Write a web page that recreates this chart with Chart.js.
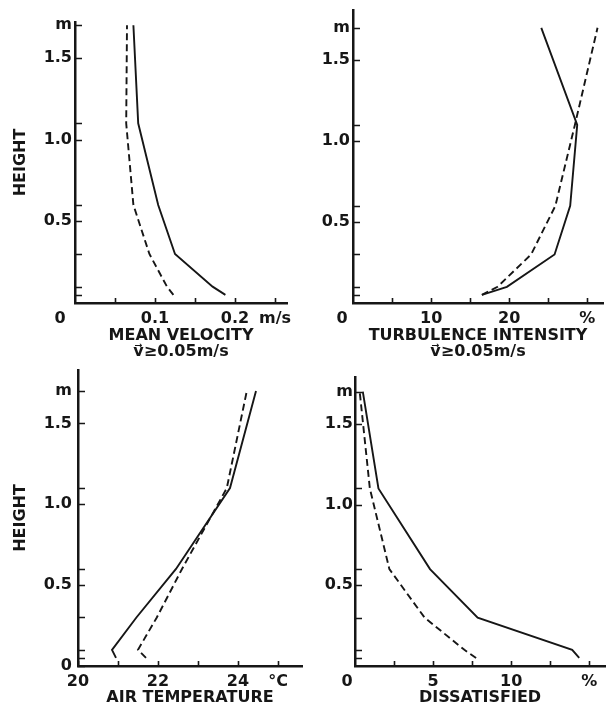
<!DOCTYPE html>
<html>
<head>
<meta charset="utf-8">
<script src="https://cdn.jsdelivr.net/npm/chart.js@4.4.1/dist/chart.umd.min.js"></script>
<style>
  html, body { margin: 0; padding: 0; background: #fff; }
  #page { position: relative; width: 606px; height: 716px; overflow: hidden; background: #fff; }
  #page canvas { position: absolute; }
</style>
</head>
<body>
<div id="page">
  <canvas id="velocity" width="303" height="360" style="left:0;top:0"></canvas>
  <canvas id="turbulence" width="303" height="360" style="left:303px;top:0"></canvas>
  <canvas id="temperature" width="303" height="358" style="left:0;top:358px"></canvas>
  <canvas id="dissatisfied" width="303" height="358" style="left:303px;top:358px"></canvas>
</div>
<script>
// measuring heights above the floor (m)
const heights = [0.05, 0.1, 0.3, 0.6, 1.1, 1.7];

// mean velocity, m/s
const velocitySolid = [0.188, 0.172, 0.125, 0.104, 0.079, 0.073];
const velocityDashed = [0.123, 0.115, 0.093, 0.073, 0.064, 0.065];

// turbulence intensity, %
const turbulenceSolid = [16.5, 19.7, 25.8, 27.8, 28.7, 24.1];
const turbulenceDashed = [16.5, 18.5, 22.8, 25.9, 28.4, 31.3];

// air temperature, deg C
const temperatureSolid = [20.95, 20.85, 21.46, 22.45, 23.8, 24.45];
const temperatureDashed = [21.7, 21.5, 21.97, 22.6, 23.72, 24.22];

// percentage dissatisfied
const dissatisfiedSolid = [14.35, 13.9, 7.85, 4.8, 1.5, 0.5];
const dissatisfiedDashed = [7.75, 7.0, 4.45, 2.2, 0.95, 0.3];

// axis ticks and their labels
const heightTicks = [0.05, 0.1, 0.3, 0.5, 0.6, 1.0, 1.1, 1.5, 1.7];
const heightTicksWithZero = [0, 0.05, 0.1, 0.3, 0.5, 0.6, 1.0, 1.1, 1.5, 1.7];
const heightLabels = { 0: '0', 0.5: '0.5', 1: '1.0', 1.5: '1.5', 1.7: 'm' };
const velocityTicks = [0.05, 0.1, 0.15, 0.2, 0.25];
const velocityLabels = { 0.1: '0.1', 0.2: '0.2', 0.25: 'm/s' };
const turbulenceTicks = [5, 10, 15, 20, 25, 30];
const turbulenceLabels = { 10: '10', 20: '20', 30: '%' };
const temperatureTicks = [20, 21, 22, 23, 24, 25];
const temperatureLabels = { 20: '20', 22: '22', 24: '24', 25: '°C' };
const dissatisfiedTicks = [2.5, 5, 7.5, 10, 12.5, 15];
const dissatisfiedLabels = { 5: '5', 10: '10', 15: '%' };

const ink = '#161616';
const labelFont = { family: 'DejaVu Sans', size: 16, weight: 'bold', lineHeight: 1 };

// short tick marks pointing into the plot, plus the "0" at the origin
const innerTicks = {
  id: 'innerTicks',
  afterDatasetsDraw(chart, args, opts) {
    const { ctx, chartArea, scales: { x, y } } = chart;
    ctx.save();
    ctx.strokeStyle = ink;
    ctx.lineWidth = 1.6;
    ctx.beginPath();
    y.ticks.forEach(t => {
      const py = Math.round(y.getPixelForValue(t.value)) + 0.5;
      ctx.moveTo(chartArea.left, py);
      ctx.lineTo(chartArea.left + 7, py);
    });
    x.ticks.forEach(t => {
      const px = Math.round(x.getPixelForValue(t.value)) + 0.5;
      ctx.moveTo(px, chartArea.bottom);
      ctx.lineTo(px, chartArea.bottom - 5);
    });
    ctx.stroke();
    if (opts.zeroShift) {
      const item = x.getLabelItems().find(it => it.label !== '');
      ctx.fillStyle = ink;
      ctx.font = 'bold 16px "DejaVu Sans"';
      ctx.textAlign = 'center';
      ctx.textBaseline = item.options.textBaseline;
      ctx.fillText('0', chartArea.left - opts.zeroShift, item.options.translation[1] + item.textOffset);
    }
    ctx.restore();
  }
};

function panel(id, p) {
  const toPoints = vals => vals.map((v, i) => ({ x: v, y: heights[i] }));
  return new Chart(document.getElementById(id), {
    type: 'scatter',
    data: {
      datasets: [
        { data: toPoints(p.solid), showLine: true, borderColor: ink, borderWidth: 1.9, pointRadius: 0 },
        { data: toPoints(p.dashed), showLine: true, borderColor: ink, borderWidth: 1.9, borderDash: [7, 4], pointRadius: 0 }
      ]
    },
    options: {
      responsive: false,
      animation: false,
      devicePixelRatio: 1,
      layout: { padding: { top: p.top, right: p.right, left: 0, bottom: 0 } },
      plugins: {
        legend: { display: false },
        tooltip: { enabled: false },
        innerTicks: { zeroShift: p.zeroShift }
      },
      scales: {
        x: {
          type: 'linear',
          min: p.xMin,
          max: p.xMax,
          grid: { display: false, drawTicks: false },
          border: { display: true, color: ink, width: 2.5 },
          afterBuildTicks: s => { s.ticks = p.xTicks.map(v => ({ value: v })); },
          afterFit: s => { s.height = p.xHeight; s.paddingLeft = 0; s.paddingRight = 0; },
          ticks: { autoSkip: false, maxRotation: 0, padding: 8, color: ink, font: labelFont,
                   callback: v => p.xLabels[v] ?? '' },
          title: { display: true, text: p.title, color: ink, font: labelFont,
                   padding: { top: 0, bottom: p.titlePad } }
        },
        y: {
          type: 'linear',
          min: 0,
          max: p.yMax,
          grid: { display: false, drawTicks: false },
          border: { display: true, color: ink, width: 2.5 },
          afterBuildTicks: s => { s.ticks = p.yTicks.map(v => ({ value: v })); },
          afterFit: s => { s.width = p.yWidth; s.paddingTop = 0; s.paddingBottom = 0; },
          ticks: { autoSkip: false, padding: p.yPad, color: ink, font: labelFont,
                   callback: v => heightLabels[v] ?? '' },
          title: { display: p.heightTitle, text: 'HEIGHT', color: ink, font: labelFont,
                   padding: { top: 13, bottom: 0 } }
        }
      }
    },
    plugins: [innerTicks]
  });
}

panel('velocity', {
  solid: velocitySolid, dashed: velocityDashed,
  xMin: 0, xMax: 0.265, xTicks: velocityTicks, xLabels: velocityLabels,
  yMax: 1.72, yTicks: heightTicks, heightTitle: true,
  title: ['MEAN VELOCITY', 'v\u20D7\u22650.05m/s'], titlePad: 0,
  top: 22, right: 16, yWidth: 75, yPad: 3, xHeight: 57, zeroShift: 15
});

panel('turbulence', {
  solid: turbulenceSolid, dashed: turbulenceDashed,
  xMin: 0, xMax: 32, xTicks: turbulenceTicks, xLabels: turbulenceLabels,
  yMax: 1.81, yTicks: heightTicks, heightTitle: false,
  title: ['TURBULENCE INTENSITY', 'v\u20D7\u22650.05m/s'], titlePad: 0,
  top: 10, right: 3, yWidth: 50, yPad: 3, xHeight: 57, zeroShift: 11
});

panel('temperature', {
  solid: temperatureSolid, dashed: temperatureDashed,
  xMin: 20, xMax: 25.6, xTicks: temperatureTicks, xLabels: temperatureLabels,
  yMax: 1.83, yTicks: heightTicksWithZero, heightTitle: true,
  title: 'AIR TEMPERATURE', titlePad: 10,
  top: 12, right: 1, yWidth: 78, yPad: 6, xHeight: 50, zeroShift: 0
});

panel('dissatisfied', {
  solid: dissatisfiedSolid, dashed: dissatisfiedDashed,
  xMin: 0, xMax: 16, xTicks: dissatisfiedTicks, xLabels: dissatisfiedLabels,
  yMax: 1.79, yTicks: heightTicks, heightTitle: false,
  title: 'DISSATISFIED', titlePad: 10,
  top: 19, right: 1, yWidth: 52, yPad: 2, xHeight: 50, zeroShift: 8
});
</script>
</body>
</html>
